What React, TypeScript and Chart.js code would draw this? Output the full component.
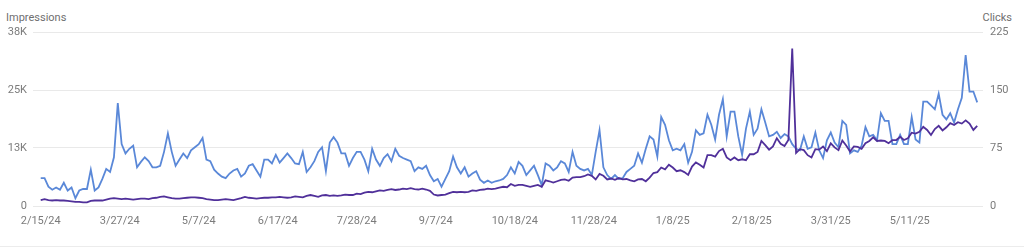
import React, { useEffect, useRef } from "react";
import { Chart, registerables } from "chart.js";

Chart.register(...registerables);

// ---- data (sampled every 2 days starting 2/15/24) ----
const START_DATE = "2024-02-15";
const SAMPLE_STEP_DAYS = 2;

const xTickDays = [0, 41, 82, 123, 164, 205, 246, 287, 328, 369, 410, 451];
const xTickLabels = [
  "2/15/24", "3/27/24", "5/7/24", "6/17/24", "7/28/24", "9/7/24",
  "10/18/24", "11/28/24", "1/8/25", "2/18/25", "3/31/25", "5/11/25",
];

const impressionsMax = 38000;
const impressionsTickValues = [0, 12666.67, 25333.33, 38000];
const impressionsTickLabels = ["0", "13K", "25K", "38K"];

const clicksMax = 225;
const clicksTickValues = [0, 75, 150, 225];
const clicksTickLabels = ["0", "75", "150", "225"];

const clicks = [
  36, 36, 25, 21, 24, 21, 30, 20, 24, 10, 20, 22, 22, 47, 20, 24, 35, 48, 44, 63,
  133, 80, 68, 74, 78, 50, 57, 63, 58, 50, 50, 52, 70, 94, 70, 52, 60, 68, 62, 72,
  76,
  80, 88, 60, 58, 47, 42, 38, 36, 42, 46, 48, 38, 42, 52, 54, 46, 38, 60, 60, 55,
  66, 56, 62, 68, 62, 55, 54, 70, 44, 50, 58, 70, 76, 45, 82, 89, 82, 68, 68, 52,
  62, 70, 70, 60, 45, 74, 60, 52, 62, 67, 58, 74, 65, 62, 60, 58, 45, 50, 48, 52,
  40, 32, 35, 25, 35, 45, 64, 50, 42, 50, 38, 42, 45, 34, 30, 33, 30, 32, 33, 35,
  40, 50, 42, 57, 52, 40, 46, 52, 40, 27, 55, 52, 46, 50, 58, 55, 44, 70, 52, 48,
  46, 48, 40, 70, 98, 50, 40, 35, 40, 35, 36, 44, 48, 52, 68, 56, 74, 90, 86, 64,
  115,
  105, 85, 72, 74, 72, 80, 56, 70, 98, 92, 94, 118, 105, 86, 118, 138, 90, 122, 122, 90,
  66, 100, 122, 92, 100, 125, 108, 90, 92, 96, 88, 93, 90, 80, 74, 72, 90, 74, 76,
  95, 72, 62, 85, 95, 82, 76, 110, 105, 68, 72, 70, 78, 102, 90, 92, 85, 120, 110, 110,
  80, 80, 92, 80, 80, 115, 86, 82, 135, 135, 130, 125, 145, 118, 112, 120, 108, 125, 140, 195,
  148, 148, 134,
];

const impressions = [
  1300, 1500, 1300, 1200, 1300, 1200, 1200, 1100, 1000, 900, 900, 800, 800, 1100, 1200,
  1200, 1200, 1400, 1600, 1700, 1600, 1500, 1600, 1500, 1400, 1500, 1600, 1600, 1500, 1700,
  1800, 2000, 2100, 1900, 1700, 1600, 1600, 1700, 1800, 1900, 1900,
  1800, 1700, 1500, 1400, 1300, 1300, 1400, 1500, 1400, 1300, 1500, 1700, 2000, 1800, 1700,
  1600, 1700, 1800, 1800, 1900, 1900, 2000, 1900, 1800, 1900, 2100, 2000, 1900, 2200, 2400,
  2200, 2000, 2300, 2400, 2200, 2300, 2200, 2300, 2500, 2400,
  2400, 2700, 2600, 2900, 3100, 3000, 3200, 3400, 3300, 3500, 3700, 3500, 3600, 3800, 3700,
  3900, 3700, 3600, 3800, 3600, 3300, 2500, 2300, 2400, 2500, 2800, 3100, 3000, 3100, 3000,
  3100, 3400, 3300, 3500, 3600, 3800, 3700, 3800, 4000, 4200,
  4100, 4800, 4400, 4600, 4600, 4400, 4200, 4400, 4600, 4200, 5600, 5400, 5100, 5400, 5700,
  5800, 5500, 6200, 6300, 6300, 6500, 6900, 6600, 5800, 7000, 6600, 5800, 6000, 5700, 6100,
  5800, 5900, 5600, 5400, 5800, 5900, 5400, 6200, 7200, 7400, 8400,
  8000, 9000, 8400, 7600, 7800, 7400, 6800, 8600, 9500, 9000, 8400, 11100, 11100, 10800, 12000,
  12500, 10600, 10000, 10600, 10000, 10200, 10000, 11300, 11300, 11800, 14200, 13300, 12300, 13000, 14800,
  13600, 13100, 14400, 34400, 11600, 12400, 12200, 11100, 10600,
  12400, 12300, 13000, 12000, 13700, 12800, 12200, 14300, 13200, 11900, 13000, 12900, 12500, 13700, 14200,
  15000, 14200, 14300, 14200, 13700, 14400, 14400, 15100, 14400, 14800, 16000, 15800, 16200, 17300, 16600,
  15500, 16800, 17500, 16500, 17200, 18100, 17700, 18300, 18000, 18700, 18000, 16600, 17500,
];

const CLICKS_COLOR = "#5a88d8";
const IMPRESSIONS_COLOR = "#50309a";
const TICK_COLOR = "#7b7b7b";
const GRID_COLOR = "#e9e9e9";
const FONT_FAMILY = "Roboto, 'Noto Sans', sans-serif";

export default function App() {
  const canvasRef = useRef<HTMLCanvasElement | null>(null);

  useEffect(() => {
    const canvas = canvasRef.current;
    if (!canvas) return;
    const toPoints = (arr: number[]) =>
      arr.map((v, i) => ({ x: i * SAMPLE_STEP_DAYS, y: v }));

    const chart = new Chart(canvas, {
      type: "line",
      data: {
        datasets: [
          {
            label: "Impressions",
            data: toPoints(impressions),
            yAxisID: "yImp",
            borderColor: IMPRESSIONS_COLOR,
            borderWidth: 1.8,
            pointRadius: 0,
            tension: 0,
            fill: false,
          },
          {
            label: "Clicks",
            data: toPoints(clicks),
            yAxisID: "yClicks",
            borderColor: CLICKS_COLOR,
            borderWidth: 1.8,
            pointRadius: 0,
            tension: 0,
            fill: false,
          },
        ],
      },
      options: {
        animation: false,
        responsive: false,
        maintainAspectRatio: false,
        layout: { padding: { top: 32, left: 0, right: 0, bottom: 0 } },
        plugins: {
          legend: { display: false },
          tooltip: { enabled: false },
          title: { display: false },
        },
        scales: {
          x: {
            type: "linear",
            min: -4,
            max: 489,
            afterBuildTicks: (s: any) => {
              s.ticks = xTickDays.map((v) => ({ value: v }));
            },
            afterFit: (s: any) => {
              s.height = 43;
            },
            ticks: {
              autoSkip: false,
              maxRotation: 0,
              minRotation: 0,
              padding: 9,
              color: TICK_COLOR,
              font: { family: FONT_FAMILY, size: 11 },
              callback: (_v: any, i: number) => xTickLabels[i],
            },
            grid: { display: false, drawTicks: false },
            border: { display: false },
          },
          yImp: {
            type: "linear",
            position: "left",
            min: 0,
            max: impressionsMax,
            afterBuildTicks: (s: any) => {
              s.ticks = impressionsTickValues.map((v) => ({ value: v }));
            },
            afterFit: (s: any) => {
              s.width = 33;
            },
            ticks: {
              padding: 6,
              color: TICK_COLOR,
              font: { family: FONT_FAMILY, size: 11 },
              callback: (_v: any, i: number) => impressionsTickLabels[i],
            },
            grid: { color: GRID_COLOR, drawTicks: false, lineWidth: 1 },
            border: { display: false },
          },
          yClicks: {
            type: "linear",
            position: "right",
            min: 0,
            max: clicksMax,
            afterBuildTicks: (s: any) => {
              s.ticks = clicksTickValues.map((v) => ({ value: v }));
            },
            afterFit: (s: any) => {
              s.width = 41;
            },
            ticks: {
              padding: 7,
              color: TICK_COLOR,
              font: { family: FONT_FAMILY, size: 11 },
              callback: (_v: any, i: number) => clicksTickLabels[i],
            },
            grid: { display: false, drawTicks: false },
            border: { display: false },
          },
        },
      },
    } as any);

    return () => chart.destroy();
  }, []);

  return (
    <div
      style={{
        position: "absolute",
        left: 0,
        top: 0,
        width: 1024,
        height: 249,
        background: "#ffffff",
        fontFamily: FONT_FAMILY,
        overflow: "hidden",
      }}
    >
      <div
        style={{
          position: "absolute",
          left: 6,
          top: 11,
          fontSize: 11,
          lineHeight: "14px",
          color: "#6f6f6f",
        }}
      >
        Impressions
      </div>
      <div
        style={{
          position: "absolute",
          right: 12,
          top: 11,
          fontSize: 11,
          lineHeight: "14px",
          color: "#6f6f6f",
        }}
      >
        Clicks
      </div>
      <canvas
        ref={canvasRef}
        width={1024}
        height={249}
        style={{ position: "absolute", left: 0, top: 0, width: 1024, height: 249 }}
      />
      <div
        style={{
          position: "absolute",
          left: 0,
          top: 246,
          width: 1024,
          height: 1,
          background: "#ececec",
        }}
      />
    </div>
  );
}
